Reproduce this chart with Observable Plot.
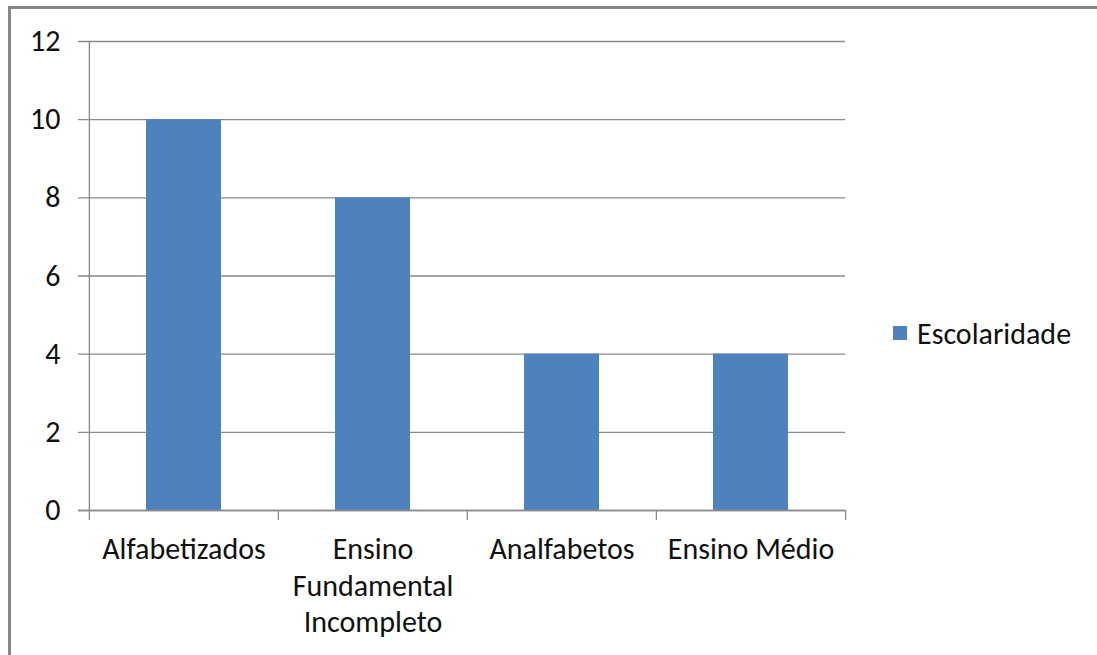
<!DOCTYPE html>
<html>
<head>
<meta charset="utf-8">
<script src="https://cdn.jsdelivr.net/npm/d3@7"></script>
<script src="https://cdn.jsdelivr.net/npm/@observablehq/plot@0.6"></script>
<style>
  html, body { margin: 0; padding: 0; background: #fff; }
  #wrap { position: relative; width: 1097px; height: 655px; overflow: hidden; font-family: Carlito, "Open Sans", sans-serif; }
  #border { position: absolute; left: 8px; top: 6px; right: -10px; bottom: -10px; border-top: 3px solid #878787; border-left: 3px solid #878787; pointer-events: none; z-index: 2; }
  #chart { position: absolute; left: 0; top: 0; }
  #legend { position: absolute; left: 893px; top: 315px; height: 36px; display: flex; align-items: center; font-size: 30px; color: #111; }
  #legend .sw { width: 14px; height: 14px; background: #4F81BD; margin-right: 10px; }
</style>
</head>
<body>
<div id="wrap">
  <div id="chart"></div>
  <div id="border"></div>
  <div id="legend"><div class="sw"></div><span id="legendLabel"></span></div>
</div>
<script>
const categories = ["Alfabetizados", "Ensino Fundamental Incompleto", "Analfabetos", "Ensino Médio"];
const values = [10, 8, 4, 4];
const categoryLabels = ["Alfabetizados", "Ensino\nFundamental\nIncompleto", "Analfabetos", "Ensino Médio"];
const yTicks = [0, 2, 4, 6, 8, 10, 12];
const seriesName = "Escolaridade";

const data = categories.map((c, i) => ({category: c, value: values[i]}));
const labelOf = new Map(categories.map((c, i) => [c, categoryLabels[i]]));

const W = 1097, H = 655;
const mL = 88, mR = 252, mT = 41, mB = 145;
const bw = (W - mL - mR) / categories.length;
const grid = "#8a8a8a";

const chart = Plot.plot({
  width: W,
  height: H,
  marginLeft: mL,
  marginRight: mR,
  marginTop: mT,
  marginBottom: mB,
  style: {background: "transparent", fontFamily: "Carlito, 'Open Sans', sans-serif", overflow: "visible"},
  x: {domain: categories, padding: 0},
  y: {domain: [0, 12]},
  marks: [
    Plot.ruleY(yTicks, {y: d => d, stroke: grid, strokeWidth: 1.3, insetLeft: -10}),
    Plot.barY(data, {x: "category", y: "value", fill: "#4F81BD", insetLeft: 57, insetRight: 57}),
    Plot.ruleX([categories[0]], {x: d => d, y1: 12, y2: 0, insetBottom: -10, dx: -bw / 2, stroke: grid, strokeWidth: 1.3}),
    Plot.ruleX(categories.slice(1), {x: d => d, y1: 0, y2: 0, insetBottom: -10, dx: -bw / 2, stroke: grid, strokeWidth: 1.3}),
    Plot.ruleX([categories[categories.length - 1]], {x: d => d, y1: 0, y2: 0, insetBottom: -10, dx: bw / 2, stroke: grid, strokeWidth: 1.3}),
    Plot.ruleY([0], {stroke: grid, strokeWidth: 1.3, insetLeft: -10}),
    Plot.axisY({ticks: yTicks, tickSize: 0, tickPadding: 28, fontSize: 30, fill: "#111", label: null}),
    Plot.axisX({tickSize: 0, tickPadding: 23, fontSize: 30, fill: "#111", label: null, lineHeight: 1.21, tickFormat: d => labelOf.get(d)})
  ]
});
document.getElementById("chart").appendChild(chart);
document.getElementById("legendLabel").textContent = seriesName;
</script>
</body>
</html>
